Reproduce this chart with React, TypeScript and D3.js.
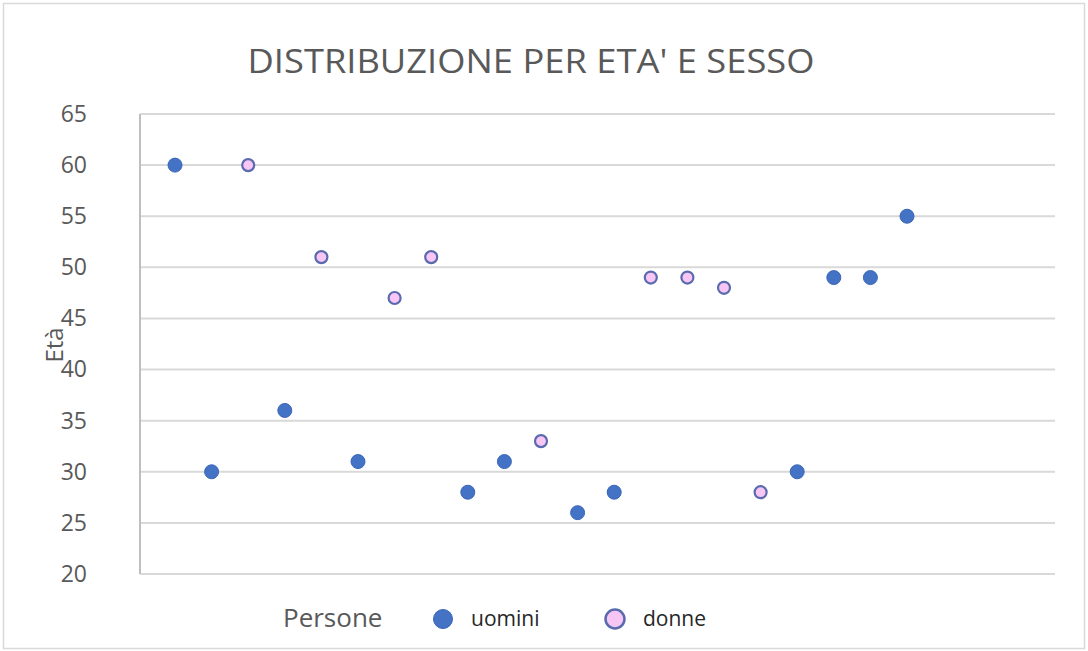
import React, { useEffect, useRef } from 'react';
import * as d3 from 'd3';

// persone in ordine, con sesso ed eta'
const persone = [1, 2, 3, 4, 5, 6, 7, 8, 9, 10, 11, 12, 13, 14, 15, 16, 17, 18, 19, 20, 21];
const sesso = ['uomini', 'uomini', 'donne', 'uomini', 'donne', 'uomini', 'donne', 'donne', 'uomini', 'uomini', 'donne',
  'uomini', 'uomini', 'donne', 'donne', 'donne', 'donne', 'uomini', 'uomini', 'uomini', 'uomini'];
const eta = [60, 30, 60, 36, 51, 31, 47, 51, 28, 31, 33, 26, 28, 49, 49, 48, 28, 30, 49, 49, 55];
const yTicks = [20, 25, 30, 35, 40, 45, 50, 55, 60, 65];

const W = 1088;
const H = 651;

export default function App() {
  const ref = useRef<SVGSVGElement>(null);

  useEffect(() => {
    const svg = d3.select(ref.current);
    svg.selectAll('*').remove();

    const x = d3.scaleLinear().domain([0, 25]).range([138.4, 1053.4]);
    const y = d3.scaleLinear().domain([20, 65]).range([574, 114]);

    // bordo
    svg.append('rect')
      .attr('x', 3.5).attr('y', 3.5)
      .attr('width', W - 7).attr('height', H - 6)
      .attr('fill', '#fff').attr('stroke', '#d9d9d9').attr('stroke-width', 1.5);

    svg.append('text')
      .attr('x', 531).attr('y', 73)
      .attr('text-anchor', 'middle')
      .attr('font-family', 'Open Sans')
      .attr('font-size', 33)
      .attr('fill', '#595959')
      .attr('textLength', 567)
      .attr('lengthAdjust', 'spacingAndGlyphs')
      .text("DISTRIBUZIONE PER ETA' E SESSO");

    // griglia
    svg.append('g')
      .selectAll('line')
      .data(yTicks)
      .join('line')
      .attr('x1', 140).attr('x2', 1055)
      .attr('y1', d => y(d)).attr('y2', d => y(d))
      .attr('stroke', '#d9d9d9').attr('stroke-width', 2);

    svg.append('line')
      .attr('x1', 140).attr('x2', 140)
      .attr('y1', y(65)).attr('y2', y(20))
      .attr('stroke', '#bfbfbf').attr('stroke-width', 2);

    const yAxis = d3.axisLeft(y).tickValues(yTicks).tickSize(0).tickPadding(0);
    const gy = svg.append('g').attr('transform', 'translate(87,0)').call(yAxis);
    gy.select('.domain').remove();
    gy.selectAll('text')
      .attr('font-family', 'Open Sans')
      .attr('font-size', 23)
      .attr('fill', '#595959');

    svg.append('text')
      .attr('transform', 'translate(63,345) rotate(-90)')
      .attr('text-anchor', 'middle')
      .attr('font-family', 'Open Sans')
      .attr('font-size', 24)
      .attr('fill', '#595959')
      .text('Età');

    const stile = (s: string) => s === 'uomini'
      ? { fill: '#4472c4', stroke: '#3a66b8', r: 7, sw: 1 }
      : { fill: '#f7c6f4', stroke: '#5a6aae', r: 6, sw: 2.2 };

    svg.append('g')
      .selectAll('circle')
      .data(persone)
      .join('circle')
      .attr('cx', d => x(d))
      .attr('cy', (d, i) => y(eta[i]))
      .attr('r', (d, i) => stile(sesso[i]).r)
      .attr('fill', (d, i) => stile(sesso[i]).fill)
      .attr('stroke', (d, i) => stile(sesso[i]).stroke)
      .attr('stroke-width', (d, i) => stile(sesso[i]).sw);

    // legenda
    const lg = svg.append('g');
    lg.append('text')
      .attr('x', 283).attr('y', 627)
      .attr('font-family', 'Open Sans')
      .attr('font-size', 26)
      .attr('fill', '#595959')
      .text('Persone');
    const voci = [
      { nome: 'uomini', cx: 443, tx: 471 },
      { nome: 'donne', cx: 615, tx: 643 },
    ];
    voci.forEach(v => {
      const s = stile(v.nome);
      lg.append('circle')
        .attr('cx', v.cx).attr('cy', 619)
        .attr('r', 9.5)
        .attr('fill', s.fill)
        .attr('stroke', s.stroke)
        .attr('stroke-width', v.nome === 'donne' ? 2.5 : 1);
      lg.append('text')
        .attr('x', v.tx).attr('y', 626)
        .attr('font-family', 'Open Sans')
        .attr('font-size', 21)
        .attr('fill', '#262626')
        .text(v.nome);
    });
  }, []);

  return (
    <svg ref={ref} width={W} height={H}
      style={{ position: 'absolute', left: 0, top: 0, display: 'block', background: '#fff' }} />
  );
}
